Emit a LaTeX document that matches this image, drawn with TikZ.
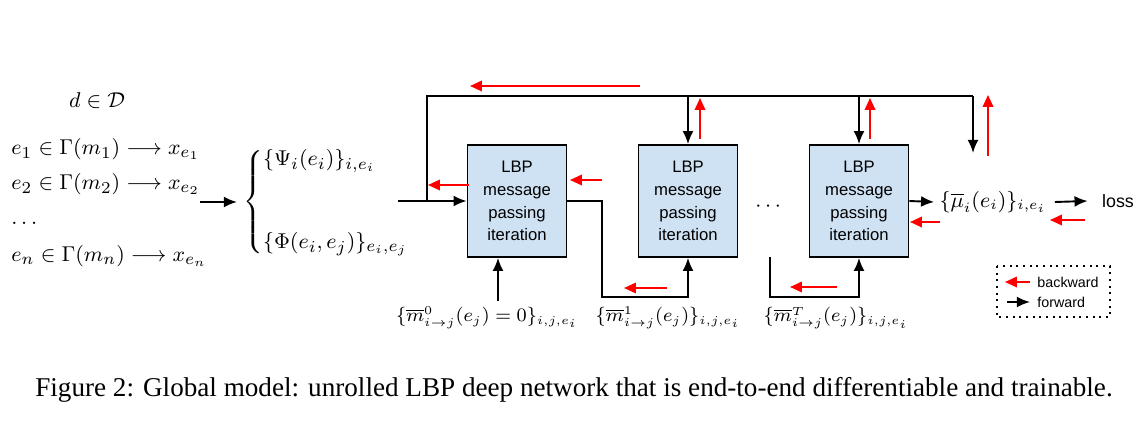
\documentclass[tikz,border=0pt]{standalone}
\usepackage{amsmath}
\usepackage{fontspec}
\newfontfamily\arialfont{Liberation Sans}
\newfontfamily\timesfont{Liberation Serif}
\usetikzlibrary{arrows.meta,calc}
\definecolor{lbpblue}{HTML}{CFE2F3}
\begin{document}
\begin{tikzpicture}[x=0.42pt,y=-0.42pt,>={Latex[length=5.5pt,width=4.6pt]},
  lbpbox/.style={draw,line width=0.7pt,fill=lbpblue,minimum width=41.6pt,minimum height=47pt,
    inner sep=0pt,align=center,font=\arialfont\fontsize{7}{9.6}\selectfont},
  fwd/.style={->,line width=0.8pt},
  bwd/.style={-{Triangle[length=5pt,width=4.4pt]},red,line width=0.8pt},
  lbl/.style={inner sep=0pt,font=\fontsize{9.3}{11}\selectfont},
  msg/.style={inner sep=0pt,font=\fontsize{7.7}{10}\selectfont}]
  \useasboundingbox (0,0) rectangle (1146,438);
  \node[lbl,anchor=base] (dom) at (97,108) {$d\in\mathcal{D}$};
  \node[lbl,anchor=base west] (e1) at (11,155) {$e_1\in\Gamma(m_1)\longrightarrow x_{e_1}$};
  \node[lbl,anchor=base west] (e2) at (11,190) {$e_2\in\Gamma(m_2)\longrightarrow x_{e_2}$};
  \node[lbl,anchor=base west] (edots) at (11,225) {$\dots$};
  \node[lbl,anchor=base west] (en) at (11,262) {$e_n\in\Gamma(m_n)\longrightarrow x_{e_n}$};
  \node[lbl,anchor=west] (pot) at (243,202)
    {$\left\{\begin{array}{@{}l}\{\Psi_i(e_i)\}_{i,e_i}\\[24pt]\{\Phi(e_i,e_j)\}_{e_i,e_j}\end{array}\right.$};
  \coordinate (emb) at (200,202);
  \draw[fwd] (emb) -- ($(pot.west)+(-6,0)$);
  \node[lbpbox] (lbp1) at (517,201) {LBP\\message\\passing\\iteration};
  \node[lbpbox] (lbp2) at (688,201) {LBP\\message\\passing\\iteration};
  \node[lbpbox] (lbp3) at (859,201) {LBP\\message\\passing\\iteration};
  \coordinate (in) at (398,201);
  \coordinate (split) at (427,201);
  \coordinate (top) at (427,96);
  \coordinate (topend) at (973,96);
  \coordinate (outlast) at (973,153);
  \draw[fwd] (in) -- (lbp1.west);
  \draw[line width=0.8pt] (split) -- (top) -- (topend);
  \draw[fwd] (topend) -- (outlast);
  \draw[fwd] (top -| lbp2.north) -- (lbp2.north);
  \draw[fwd] (top -| lbp3.north) -- (lbp3.north);
  \node[msg] (m0) at (487,318) {$\{\overline{m}^0_{i\to j}(e_j)=0\}_{i,j,e_i}$};
  \coordinate (m0tail) at (498,301);
  \draw[fwd] (m0tail) -- (m0tail |- lbp1.south);
  \coordinate (c1) at (602,297);
  \draw[fwd] (lbp1.east) -| (c1) -| (lbp2.south);
  \node[msg] (m1) at (668,318) {$\{\overline{m}^1_{i\to j}(e_j)\}_{i,j,e_i}$};
  \node[lbl] (dots) at (770,207) {$\cdots$};
  \coordinate (c3a) at (770,257);
  \coordinate (c3b) at (770,297);
  \draw[fwd] (c3a) -- (c3b) -| (lbp3.south);
  \node[msg] (mT) at (836,318) {$\{\overline{m}^T_{i\to j}(e_j)\}_{i,j,e_i}$};
  \node[lbl,font=\fontsize{8.8}{10}\selectfont] (mu) at (993,202) {$\{\overline{\mu}_i(e_i)\}_{i,e_i}$};
  \node[lbl,font=\arialfont\fontsize{7.5}{9}\selectfont] (loss) at (1118,201) {loss};
  \draw[fwd] (lbp3.east) -- ($(mu.west)+(-5,0)$);
  \draw[fwd] ($(mu.east)+(8,0)$) -- ($(loss.west)+(-14,0)$);
  \draw[bwd] (640,86) -- (470,86);
  \draw[bwd] (700,139) -- (700,98);
  \draw[bwd] (870,139) -- (870,98);
  \draw[bwd] (988,156) -- (988,95);
  \draw[bwd] (469,185) -- (428,185);
  \draw[bwd] (602,180) -- (570,180);
  \draw[bwd] (667,288) -- (624,288);
  \draw[bwd] (837,287) -- (790,287);
  \draw[bwd] (940,222) -- (910,222);
  \draw[bwd] (1085,220) -- (1050,220);
  \draw[dotted,line width=0.8pt] (997,266) rectangle (1110,317);
  \draw[bwd] (1030,282) -- (1005,282);
  \draw[fwd] (1007,302) -- (1030,302);
  \node[inner sep=0pt,anchor=west,font=\arialfont\fontsize{6}{7}\selectfont] (bwdtxt) at (1037,282) {backward};
  \node[inner sep=0pt,anchor=west,font=\arialfont\fontsize{6}{7}\selectfont] (fwdtxt) at (1037,302) {forward};
  \node[inner sep=0pt,anchor=base,font=\timesfont\fontsize{11.4}{13}\selectfont] (caption) at (574,397)
    {Figure 2: Global model: unrolled LBP deep network that is end-to-end differentiable and trainable.};
\end{tikzpicture}
\end{document}
